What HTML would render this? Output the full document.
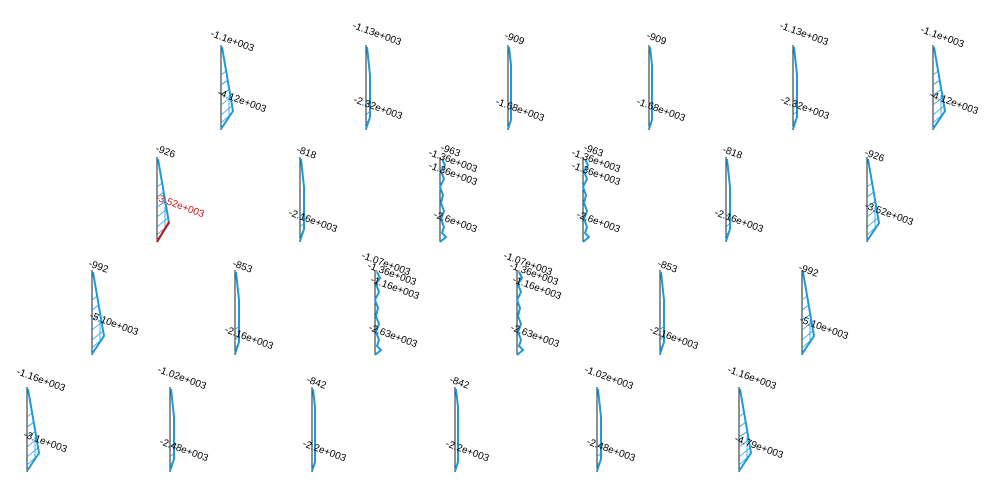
<!DOCTYPE html>
<html><head><meta charset="utf-8"><style>
html,body{margin:0;padding:0;background:#fff;}
svg{display:block}
text{font-family:"Liberation Sans",sans-serif;font-size:10px;fill:#000}
</style></head><body>
<svg width="1003" height="495" viewBox="0 0 1003 495" xmlns="http://www.w3.org/2000/svg">
<defs>
<g id="W">
<line x1="0" y1="0" x2="0" y2="85" stroke="#222" stroke-width="1"/>
<polyline points="1,2 12,66 0,84" fill="none" stroke="#1a9be0" stroke-width="2"/>
<g stroke="#1a9be0" stroke-width="0.8">
<line x1="0" y1="30" x2="5" y2="26"/><line x1="0" y1="40" x2="7" y2="35"/><line x1="0" y1="50" x2="9" y2="44"/><line x1="0" y1="60" x2="10" y2="52"/><line x1="0" y1="70" x2="12" y2="60"/><line x1="0" y1="78" x2="10" y2="69"/><line x1="8" y1="50" x2="8" y2="72"/>
</g>
</g>
<g id="M">
<line x1="0" y1="0" x2="0" y2="85" stroke="#222" stroke-width="1"/>
<polyline points="1,2 4,30 4,72 0,84" fill="none" stroke="#1a9be0" stroke-width="2"/>
<g stroke="#1a9be0" stroke-width="0.8"><line x1="0" y1="60" x2="4" y2="56"/><line x1="0" y1="70" x2="4" y2="66"/><line x1="0" y1="78" x2="3" y2="75"/></g>
</g>
<g id="N">
<line x1="0" y1="0" x2="0" y2="85" stroke="#222" stroke-width="1"/>
<polyline points="1,2 3,20 3,75 0,84" fill="none" stroke="#1a9be0" stroke-width="2"/>
</g>
<g id="Z">
<line x1="0" y1="0" x2="0" y2="85" stroke="#222" stroke-width="1"/>
<polyline points="2,2 5,8 1,14 4,22 0,30 3,38 1,46 4,54 1,62 4,70 2,76 6,80 0,85" fill="none" stroke="#1a9be0" stroke-width="2"/>
</g>
</defs>

<!-- Row 1 -->
<use href="#W" x="221" y="45"/><text transform="translate(210,36) rotate(20)">-1.1e+003</text><text transform="translate(217,95) rotate(20)">-4.12e+003</text>
<use href="#M" x="366" y="45"/><text transform="translate(352,28) rotate(20)">-1.13e+003</text><text transform="translate(353,102) rotate(20)">-2.32e+003</text>
<use href="#N" x="508" y="45"/><text transform="translate(504,38) rotate(20)">-909</text><text transform="translate(495,104) rotate(20)">-1.68e+003</text>
<use href="#N" x="649" y="45"/><text transform="translate(646,38) rotate(20)">-909</text><text transform="translate(636,104) rotate(20)">-1.68e+003</text>
<use href="#M" x="793" y="45"/><text transform="translate(779,28) rotate(20)">-1.13e+003</text><text transform="translate(780,102) rotate(20)">-2.32e+003</text>
<use href="#W" x="933" y="45"/><text transform="translate(920,32) rotate(20)">-1.1e+003</text><text transform="translate(929,97) rotate(20)">-4.12e+003</text>

<!-- Row 2 -->
<use href="#W" x="157" y="157"/>
<line x1="169" y1="222" x2="157" y2="242" stroke="#d01010" stroke-width="2"/>
<text transform="translate(155,151) rotate(20)">-926</text><text transform="translate(155,200) rotate(20)" style="fill:#d01010">-3.52e+003</text>
<use href="#M" x="300" y="157"/><text transform="translate(296,152) rotate(20)">-818</text><text transform="translate(288,215) rotate(20)">-2.16e+003</text>
<use href="#Z" x="440" y="157"/><text transform="translate(440,150) rotate(20)">-963</text><text transform="translate(428,155) rotate(20)">-1.36e+003</text><text transform="translate(428,168) rotate(20)">-1.36e+003</text><text transform="translate(433,217) rotate(20)">-2.6e+003</text>
<use href="#Z" x="583" y="157"/><text transform="translate(583,150) rotate(20)">-963</text><text transform="translate(571,155) rotate(20)">-1.36e+003</text><text transform="translate(571,168) rotate(20)">-1.36e+003</text><text transform="translate(576,217) rotate(20)">-2.6e+003</text>
<use href="#M" x="726" y="157"/><text transform="translate(722,152) rotate(20)">-818</text><text transform="translate(714,215) rotate(20)">-2.16e+003</text>
<use href="#W" x="867" y="157"/><text transform="translate(864,155) rotate(20)">-926</text><text transform="translate(864,208) rotate(20)">-3.52e+003</text>

<!-- Row 3 -->
<use href="#W" x="92" y="270"/><text transform="translate(88,266) rotate(20)">-992</text><text transform="translate(89,318) rotate(20)">-5.10e+003</text>
<use href="#M" x="235" y="270"/><text transform="translate(232,266) rotate(20)">-853</text><text transform="translate(224,332) rotate(20)">-2.16e+003</text>
<use href="#Z" x="375" y="270"/><text transform="translate(361,258) rotate(20)">-1.07e+003</text><text transform="translate(367,268) rotate(20)">-1.36e+003</text><text transform="translate(370,282) rotate(20)">-1.16e+003</text><text transform="translate(368,330) rotate(20)">-2.63e+003</text>
<use href="#Z" x="517" y="270"/><text transform="translate(503,258) rotate(20)">-1.07e+003</text><text transform="translate(509,268) rotate(20)">-1.36e+003</text><text transform="translate(512,282) rotate(20)">-1.16e+003</text><text transform="translate(510,330) rotate(20)">-2.63e+003</text>
<use href="#M" x="660" y="270"/><text transform="translate(657,266) rotate(20)">-853</text><text transform="translate(649,332) rotate(20)">-2.16e+003</text>
<use href="#W" x="802" y="270"/><text transform="translate(798,270) rotate(20)">-992</text><text transform="translate(799,322) rotate(20)">-5.10e+003</text>

<!-- Row 4 -->
<use href="#W" x="27" y="387"/><text transform="translate(16,374) rotate(20)">-1.16e+003</text><text transform="translate(23,437) rotate(20)">-3.1e+003</text>
<use href="#M" x="170" y="387"/><text transform="translate(157,372) rotate(20)">-1.02e+003</text><text transform="translate(159,444) rotate(20)">-2.48e+003</text>
<use href="#N" x="312" y="387"/><text transform="translate(306,382) rotate(20)">-842</text><text transform="translate(302,446) rotate(20)">-2.2e+003</text>
<use href="#N" x="455" y="387"/><text transform="translate(449,382) rotate(20)">-842</text><text transform="translate(445,446) rotate(20)">-2.2e+003</text>
<use href="#M" x="597" y="387"/><text transform="translate(584,372) rotate(20)">-1.02e+003</text><text transform="translate(586,444) rotate(20)">-2.48e+003</text>
<use href="#W" x="739" y="387"/><text transform="translate(727,372) rotate(20)">-1.16e+003</text><text transform="translate(734,441) rotate(20)">-4.79e+003</text>
</svg>
</body></html>
